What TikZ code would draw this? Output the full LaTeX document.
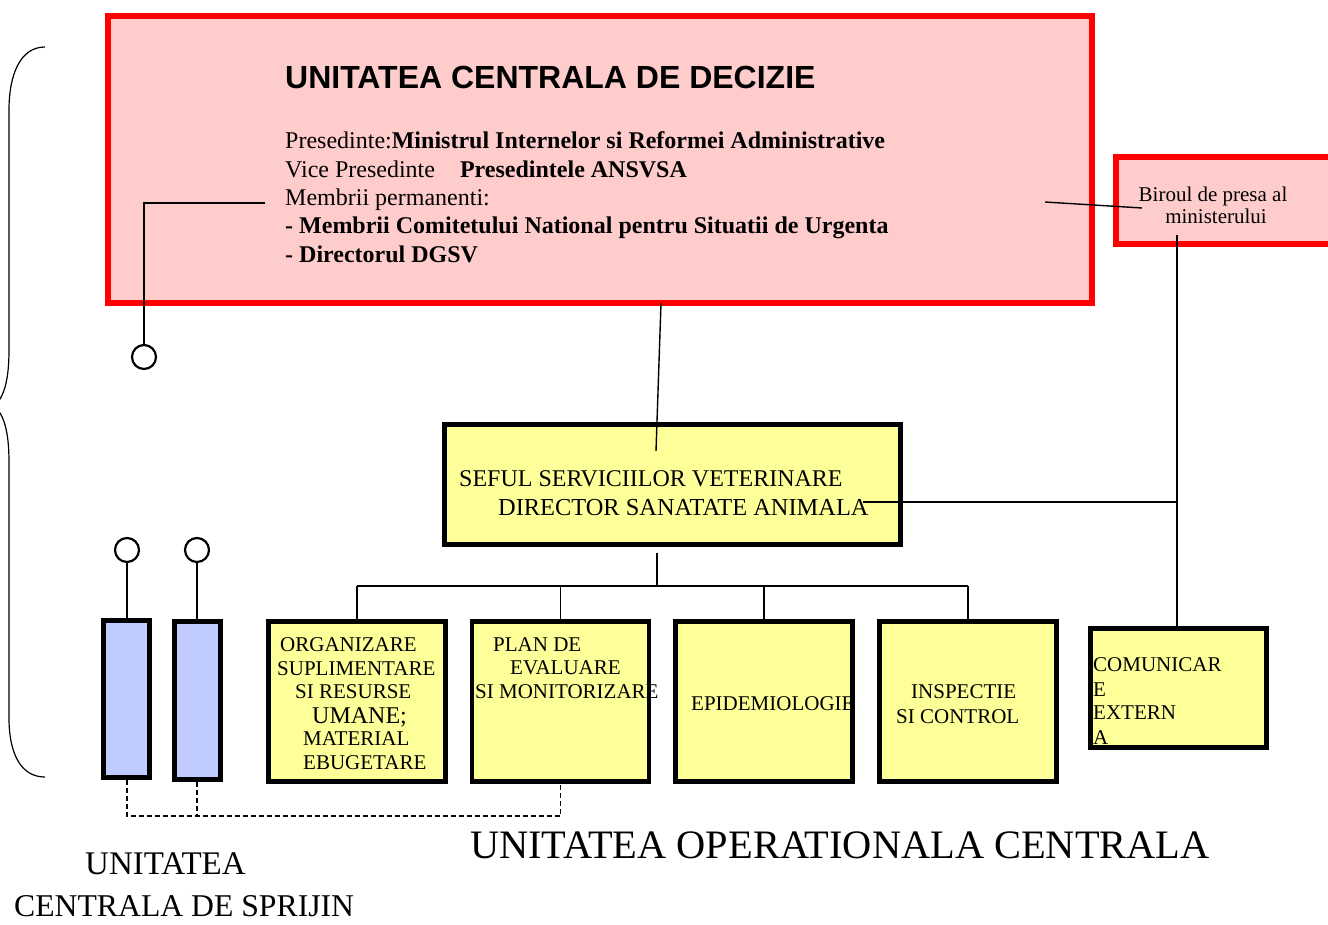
\documentclass[tikz,border=0pt]{standalone}
\usepackage{fontspec}
\setmainfont{Liberation Serif}
\newfontfamily\sansb{Liberation Sans}
\usetikzlibrary{calc}
\definecolor{pinkfill}{HTML}{FFCCCC}
\definecolor{redline}{HTML}{FF0000}
\definecolor{yellowfill}{HTML}{FFFF99}
\definecolor{bluefill}{HTML}{C0CCFF}
\begin{document}
\begin{tikzpicture}[x=1pt,y=-1pt,
  conn/.style={line width=1.4pt, draw=black},
  dashconn/.style={line width=1.3pt, draw=black, dash pattern=on 5pt off 3pt},
  redbox/.style={draw=redline, fill=pinkfill, line width=6pt, inner sep=0pt},
  ybox/.style={draw=black, fill=yellowfill, line width=4.5pt, inner sep=0pt, minimum width=177pt, minimum height=160pt},
  bbox/.style={draw=black, fill=bluefill, line width=4.5pt, inner sep=0pt, minimum width=46pt},
  ring/.style={circle, draw=black, line width=2.2pt, fill=white, minimum size=24pt, inner sep=0pt},
  txt/.style={inner sep=0pt, anchor=base west, font=\fontsize{24}{28}\selectfont},
  lbl/.style={inner sep=0pt, anchor=base west, font=\fontsize{21}{24}\selectfont},
  plbl/.style={inner sep=0pt, anchor=base, font=\fontsize{21}{22}\selectfont},
]
\useasboundingbox (0,0) rectangle (1328,924);
\clip (0,0) rectangle (1328,924);

% brace
\draw[line width=1.2pt] (45,47) .. controls (20,47) and (9,75) .. (9,110) -- (9,350)
  .. controls (9,380) and (4,398) .. (-6,406)
  .. controls (4,414) and (9,432) .. (9,462) -- (9,718)
  .. controls (9,752) and (20,777) .. (45,777);

% decision box
\node[redbox, minimum width=984pt, minimum height=287pt] (decide) at (600,159.5) {};
\node[inner sep=0pt, anchor=base west, font=\sansb\bfseries\fontsize{32}{36}\selectfont] (title) at (285,88) {UNITATEA CENTRALA DE DECIZIE};
\node[txt] (l1) at (285,148) {Presedinte:\textbf{Ministrul Internelor si Reformei Administrative}};
\node[txt] (l2) at (285,177) {Vice Presedinte\hspace{25pt}\textbf{Presedintele ANSVSA}};
\node[txt] (l3) at (285,205) {Membrii permanenti:};
\node[txt] (l4) at (285,233) {\textbf{- Membrii Comitetului National pentru Situatii de Urgenta}};
\node[txt] (l5) at (285,262) {\textbf{- Directorul DGSV}};

% press office
\node[redbox, minimum width=219pt, minimum height=87pt] (press) at (1225.5,200.5) {};
\node[plbl] (p1) at (1213,201) {Biroul de presa al};
\node[plbl] (p2) at (1216,223) {ministerului};

% chief box
\node[draw=black, fill=yellowfill, line width=4.5pt, inner sep=0pt, minimum width=456pt, minimum height=120pt] (sef) at (672.5,484.5) {};
\node[txt] (s1t) at (459,486) {SEFUL SERVICIILOR VETERINARE};
\node[txt, font=\fontsize{24.4}{28}\selectfont] (s2t) at (498,515) {DIRECTOR SANATATE ANIMALA};

% bottom boxes
\node[ybox] (org) at (357,701.5) {};
\node[ybox] (plan) at (560.5,701.5) {};
\node[ybox] (epi) at (764,701.5) {};
\node[ybox] (insp) at (968,701.5) {};
\node[ybox, minimum width=176pt, minimum height=119pt] (comm) at (1178.5,688) {};

\node[lbl] (o1) at (280,651) {ORGANIZARE};
\node[lbl] (o2) at (277,675) {SUPLIMENTARE};
\node[lbl] (o3) at (295,698) {SI RESURSE};
\node[lbl, font=\fontsize{24}{24}\selectfont] (o4) at (312,723) {UMANE;};
\node[lbl] (o5) at (303,745) {MATERIAL};
\node[lbl] (o6) at (303,769) {EBUGETARE};

\node[lbl] (pl1) at (493,651) {PLAN DE};
\node[lbl] (pl2) at (510,674) {EVALUARE};
\node[lbl] (pl3) at (475,698) {SI MONITORIZARE};

\node[lbl] (e1) at (691,710) {EPIDEMIOLOGIE};

\node[lbl] (i1) at (911,698) {INSPECTIE};
\node[lbl] (i2) at (896,723) {SI CONTROL};

\node[lbl] (c1t) at (1093,671) {COMUNICAR};
\node[lbl] (c2t) at (1093,696) {E};
\node[lbl] (c3t) at (1093,719) {EXTERN};
\node[lbl] (c4t) at (1093,744) {A};

% support boxes
\node[bbox, minimum height=157pt] (blue1) at (126.5,699) {};
\node[bbox, minimum height=158pt] (blue2) at (197.5,700.5) {};
\node[ring] (r1) at (127,550) {};
\node[ring] (r2) at (197,550) {};
\node[ring] (r3) at (144,357) {};

% coordinates
\coordinate (dA) at (661,303);
\coordinate (sA) at (656,451);
\coordinate (mA) at (1045,202);
\coordinate (pA) at (1142,208);
\coordinate (pB) at (1177,235);
\coordinate (sB) at (863,502);
\coordinate (jB) at (1177,502);
\coordinate (sC) at (657,553);
\coordinate (bus) at (657,586);
\coordinate (busL) at (357,586);
\coordinate (busR) at (968,586);
\coordinate (mB) at (265,203);
\coordinate (mC) at (144,203);
\coordinate (dL) at (127,816);
\coordinate (dR) at (560.5,816);

% connectors
\draw[conn] (dA) -- (sA);
\draw[conn] (mA) -- (pA);
\draw[conn] (pB) -- (pB |- comm.north);
\draw[conn] (sB) -- (jB);
\draw[line width=2.4pt] (sC) -- (bus);
\draw[conn] (busL) -- (busR);
\draw[conn] (busL) -- (org.north);
\draw[conn] (busL -| plan.north) -- (plan.north);
\draw[conn] (busL -| epi.north) -- (epi.north);
\draw[conn] (busR) -- (insp.north);
\draw[conn] (r3.north) -- (mC) -- (mB);
\draw[conn] (r1.south) -- (blue1.north -| r1.south);
\draw[conn] (r2.south) -- (blue2.north -| r2.south);
\draw[dashconn] (blue1.south -| dL) -- (dL) -- (dR) -- (plan.south);
\draw[dashconn] (blue2.south -| r2.south) -- (dL -| r2.south);

% captions
\node[inner sep=0pt, anchor=base west, font=\fontsize{40.4}{44}\selectfont] (opcap) at (470,858) {UNITATEA OPERATIONALA CENTRALA};
\node[inner sep=0pt, anchor=base west, font=\fontsize{33}{34}\selectfont] (sup1) at (85,874) {UNITATEA};
\node[inner sep=0pt, anchor=base west, font=\fontsize{31.7}{34}\selectfont] (sup2) at (14,916) {CENTRALA DE SPRIJIN};
\end{tikzpicture}
\end{document}
